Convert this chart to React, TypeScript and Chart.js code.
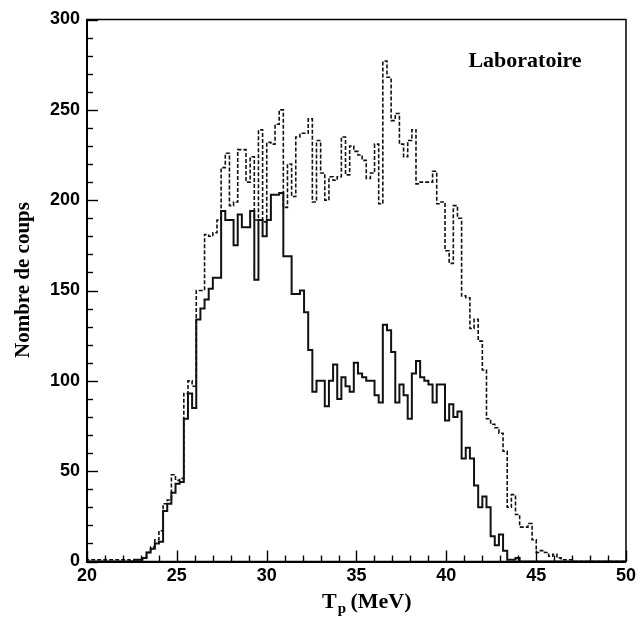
import React, { useEffect, useRef } from "react";
import { Chart, registerables } from "chart.js";

Chart.register(...registerables);

// ---- axes ----
const X_MIN = 20;
const X_MAX = 50;
const Y_MIN = 0;
const Y_MAX = 300;
const X_TICKS = [20, 25, 30, 35, 40, 45, 50];
const Y_TICKS = [0, 50, 100, 150, 200, 250, 300];
const X_MINOR_STEP = 1;
const Y_MINOR_STEP = 10;

// ---- histogram binning (130 bins over 30 MeV) ----
const BIN_WIDTH = 30 / 130;
const FIRST_EDGE = 22.389; // left edge of the first listed bin (MeV)

// counts per bin, starting at FIRST_EDGE
const SOLID_COUNTS = [
  0, 0, 1, 1, 2, 5, 7, 10, 11, 28,
  32, 38, 43, 44, 79, 93, 85, 134, 140, 145,
  151, 157, 157, 194, 189, 189, 175, 192, 185, 185,
  194, 156, 189, 180, 189, 203, 203, 204, 169, 169,
  148, 148, 150, 138, 117, 94, 100, 100, 86, 100,
  109, 90, 102, 97, 94, 110, 104, 102, 100, 100,
  92, 88, 131, 128, 116, 88, 98, 92, 79, 104,
  111, 102, 100, 98, 88, 98, 98, 78, 87, 80,
  83, 57, 63, 57, 42, 30, 36, 30, 14, 9,
  15, 6, 1, 1, 2, 0, 0, 0, 0, 0,
  0, 0, 0, 0, 0, 0, 0, 0, 0, 0,
];

const DASHED_COUNTS = [
  1, 0, 1, 1, 2, 5, 8, 12, 17, 32,
  34, 48, 45, 46, 93, 100, 97, 150, 150, 181,
  180, 182, 189, 218, 226, 197, 199, 228, 228, 210,
  224, 189, 239, 188, 232, 231, 242, 250, 196, 220,
  202, 235, 237, 237, 245, 199, 233, 215, 200, 213,
  211, 213, 235, 214, 230, 227, 225, 222, 212, 215,
  231, 198, 277, 268, 244, 248, 231, 224, 233, 239,
  209, 210, 210, 210, 216, 198, 199, 172, 165, 197,
  190, 147, 146, 129, 134, 122, 106, 79, 76, 74,
  71, 61, 30, 37, 26, 19, 19, 21, 12, 5,
  6, 5, 3, 4, 2, 1, 1, 1, 0, 0,
];

// ---- texts ----
const X_TITLE_MAIN = "T";
const X_TITLE_SUB = "p";
const X_TITLE_REST = " (MeV)";
const Y_TITLE = "Nombre de coups";
const PANEL_LABEL = "Laboratoire";

const SANS = "'Liberation Sans', Arial, Helvetica, sans-serif";
const SERIF = "'Liberation Serif', 'Times New Roman', Times, serif";

function toSteps(counts: number[]) {
  const pts: { x: number; y: number }[] = [{ x: X_MIN, y: 0 }];
  counts.forEach((c, i) => pts.push({ x: FIRST_EDGE + i * BIN_WIDTH, y: c }));
  pts.push({ x: FIRST_EDGE + counts.length * BIN_WIDTH, y: 0 });
  pts.push({ x: X_MAX, y: 0 });
  return pts;
}

const framePlugin = {
  id: "rootFrame",
  beforeDraw(chart: any) {
    const ctx = chart.ctx;
    ctx.save();
    ctx.fillStyle = "#ffffff";
    ctx.fillRect(0, 0, chart.width, chart.height);
    ctx.restore();
  },
  afterDraw(chart: any) {
    const ctx = chart.ctx;
    const a = chart.chartArea;
    const xs = chart.scales.x;
    const ys = chart.scales.y;
    ctx.save();
    ctx.strokeStyle = "#000";
    // frame
    ctx.lineWidth = 1.5;
    ctx.strokeRect(a.left, a.top, a.right - a.left, a.bottom - a.top);
    // x ticks (inward)
    ctx.lineWidth = 1.4;
    for (let v = X_MIN; v <= X_MAX + 1e-9; v += X_MINOR_STEP) {
      const px = Math.round(xs.getPixelForValue(v)) + 0.5;
      const major = X_TICKS.includes(Math.round(v));
      const len = major ? 11 : 6;
      ctx.beginPath();
      ctx.moveTo(px, a.bottom);
      ctx.lineTo(px, a.bottom - len);
      ctx.stroke();
    }
    for (let v = Y_MIN; v <= Y_MAX + 1e-9; v += Y_MINOR_STEP) {
      const py = Math.round(ys.getPixelForValue(v)) + 0.5;
      const major = Y_TICKS.includes(Math.round(v));
      const len = major ? 11 : 6;
      ctx.beginPath();
      ctx.moveTo(a.left, py);
      ctx.lineTo(a.left + len, py);
      ctx.stroke();
    }
    // x title with subscript
    ctx.fillStyle = "#000";
    ctx.textBaseline = "alphabetic";
    ctx.textAlign = "left";
    const mainFont = `bold 22px ${SERIF}`;
    const subFont = `bold 15px ${SERIF}`;
    ctx.font = mainFont;
    const wT = ctx.measureText(X_TITLE_MAIN).width;
    ctx.font = subFont;
    const wS = ctx.measureText(X_TITLE_SUB).width;
    const x0 = 322;
    const base = 608;
    ctx.font = mainFont;
    ctx.fillText(X_TITLE_MAIN, x0, base);
    ctx.font = subFont;
    ctx.fillText(X_TITLE_SUB, x0 + wT + 1, base + 5);
    ctx.font = mainFont;
    ctx.fillText(X_TITLE_REST, x0 + wT + wS, base);
    // y title rotated
    ctx.save();
    ctx.translate(29, 280);
    ctx.rotate(-Math.PI / 2);
    ctx.textAlign = "center";
    ctx.font = `bold 21px ${SERIF}`;
    ctx.fillText(Y_TITLE, 0, 0);
    ctx.restore();
    // panel label
    ctx.textAlign = "center";
    ctx.font = `bold 22px ${SERIF}`;
    ctx.fillText(PANEL_LABEL, 525, 67);
    ctx.restore();
  },
};

export default function App() {
  const ref = useRef<HTMLCanvasElement | null>(null);
  useEffect(() => {
    document.body.style.margin = "0";
    const canvas = ref.current;
    if (!canvas) return;
    const chart = new Chart(canvas, {
      type: "line",
      data: {
        datasets: [
          {
            label: "dashed",
            data: toSteps(DASHED_COUNTS),
            stepped: "after",
            borderColor: "#111",
            borderWidth: 1.6,
            borderDash: [4, 2],
            pointRadius: 0,
            fill: false,
          },
          {
            label: "solid",
            data: toSteps(SOLID_COUNTS),
            stepped: "after",
            borderColor: "#111",
            borderWidth: 2,
            pointRadius: 0,
            fill: false,
          },
        ],
      },
      options: {
        responsive: false,
        animation: false,
        devicePixelRatio: 1,
        layout: { padding: { left: 0, top: 19.5, right: 11, bottom: 0 } },
        plugins: {
          legend: { display: false },
          tooltip: { enabled: false },
        },
        scales: {
          x: {
            type: "linear",
            min: X_MIN,
            max: X_MAX,
            afterBuildTicks: (s: any) => {
              s.ticks = X_TICKS.map((v) => ({ value: v }));
            },
            afterFit: (s: any) => {
              s.height = 55.5;
            },
            grid: { display: false, drawTicks: false },
            border: { display: true, color: "#000", width: 2 },
            ticks: {
              color: "#000",
              padding: 4,
              maxRotation: 0,
              autoSkip: false,
              font: { family: SANS, size: 18, weight: "bold" },
            },
          },
          y: {
            type: "linear",
            min: Y_MIN,
            max: Y_MAX,
            afterBuildTicks: (s: any) => {
              s.ticks = Y_TICKS.map((v) => ({ value: v }));
            },
            afterFit: (s: any) => {
              s.width = 87;
            },
            grid: { display: false, drawTicks: false },
            border: { display: true, color: "#000", width: 2 },
            ticks: {
              color: "#000",
              padding: 7,
              autoSkip: false,
              font: { family: SANS, size: 18, weight: "bold" },
            },
          },
        },
      },
      plugins: [framePlugin],
    } as any);
    return () => chart.destroy();
  }, []);
  return (
    <div style={{ width: 640, height: 617 }}>
      <canvas ref={ref} width={640} height={617} style={{ display: "block" }} />
    </div>
  );
}
